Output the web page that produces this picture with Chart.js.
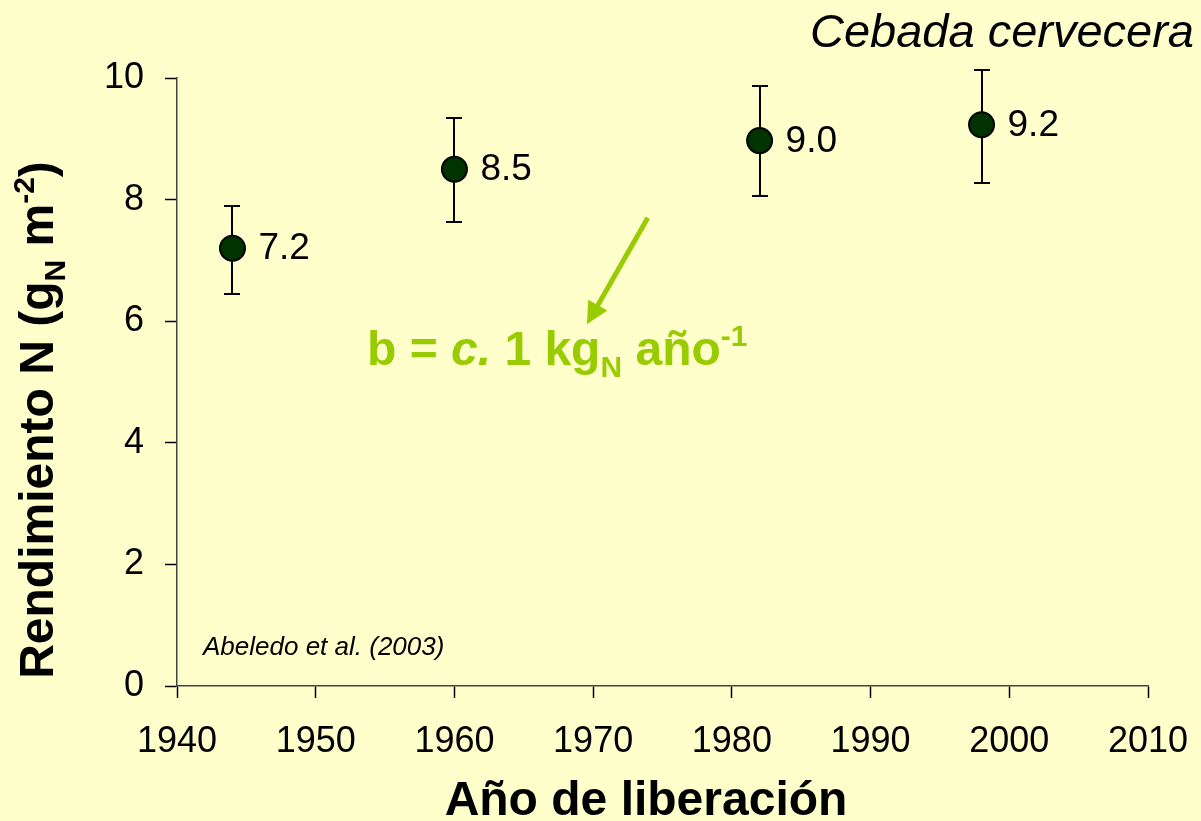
<!DOCTYPE html>
<html lang="es">
<head>
  <meta charset="UTF-8">
  <title>Rendimiento N - Cebada cervecera</title>
  <script src="https://cdn.jsdelivr.net/npm/chart.js@4/dist/chart.umd.min.js"></script>
  <style>
    html, body { margin: 0; padding: 0; background: #FFFFCC; }
    #chart { display: block; background: #FFFFCC; }
  </style>
</head>
<body>
  <canvas id="chart" width="1201" height="821"></canvas>

  <script>
    // Data
    var years = [1944, 1960, 1982, 1998];
    var rendimiento = [7.2, 8.5, 8.97, 9.23];
    var errorLow = [6.45, 7.63, 8.06, 8.28];
    var errorHigh = [7.89, 9.34, 9.87, 10.13];
    var pointLabels = ["7.2", "8.5", "9.0", "9.2"];
    var xTicks = [1940, 1950, 1960, 1970, 1980, 1990, 2000, 2010];
    var yTicks = [0, 2, 4, 6, 8, 10];

    // Arrow of the slope note, in data units (year, g m-2)
    var arrowFrom = [1973.94, 7.70];
    var arrowTo = [1969.55, 5.95];

    var FONT = "'Liberation Sans', Arial, sans-serif";
    var GREEN = "#99CC00";

    /* Draw text made of parts (sub / superscripts) */
    function drawRich(ctx, parts, x, y, align) {
      var total = 0;
      parts.forEach(function(p) {
        ctx.font = p.font;
        total += ctx.measureText(p.t).width;
      });
      var cx = x;
      if (align == "center") cx = x - total / 2;
      if (align == "right") cx = x - total;
      ctx.textAlign = "left";
      ctx.textBaseline = "alphabetic";
      parts.forEach(function(p) {
        ctx.font = p.font;
        ctx.fillText(p.t, cx, y + (p.dy || 0));
        cx += ctx.measureText(p.t).width;
      });
    }

    var points = years.map(function(y, i) { return { x: y, y: rendimiento[i] }; });

    var extras = {
      id: "extras",
      afterDatasetsDraw: function(chart) {
        var ctx = chart.ctx;
        var xs = chart.scales.x, ys = chart.scales.y;
        ctx.save();

        // value labels
        ctx.fillStyle = "#000";
        ctx.font = "37px " + FONT;
        ctx.textAlign = "left";
        ctx.textBaseline = "middle";
        for (var i = 0; i < years.length; i++) {
          ctx.fillText(pointLabels[i], xs.getPixelForValue(years[i]) + 26, ys.getPixelForValue(rendimiento[i]) + 1);
        }

        // arrow
        var x0 = xs.getPixelForValue(arrowFrom[0]), y0 = ys.getPixelForValue(arrowFrom[1]);
        var x1 = xs.getPixelForValue(arrowTo[0]), y1 = ys.getPixelForValue(arrowTo[1]);
        var ang = Math.atan2(y1 - y0, x1 - x0);
        var headLen = 22, headW = 11;
        var bx = x1 - headLen * Math.cos(ang), by = y1 - headLen * Math.sin(ang);
        ctx.strokeStyle = GREEN;
        ctx.fillStyle = GREEN;
        ctx.lineWidth = 5;
        ctx.beginPath();
        ctx.moveTo(x0, y0);
        ctx.lineTo(bx, by);
        ctx.stroke();
        ctx.beginPath();
        ctx.moveTo(x1, y1);
        ctx.lineTo(bx + headW * Math.sin(ang), by - headW * Math.cos(ang));
        ctx.lineTo(bx - headW * Math.sin(ang), by + headW * Math.cos(ang));
        ctx.closePath();
        ctx.fill();

        // slope note
        ctx.fillStyle = GREEN;
        var b48 = "bold 48px " + FONT, b30 = "bold 30px " + FONT;
        drawRich(ctx, [
          { t: "b = ", font: b48 },
          { t: "c.", font: "italic bold 48px " + FONT },
          { t: " 1 kg", font: b48 },
          { t: "N", font: b30, dy: 12 },
          { t: " año", font: b48 },
          { t: "-1", font: b30, dy: -19 }
        ], 367, 365, "left");

        // species
        ctx.fillStyle = "#000";
        drawRich(ctx, [{ t: "Cebada cervecera", font: "italic 47px " + FONT }], 1194, 47, "right");

        // source
        drawRich(ctx, [{ t: "Abeledo et al. (2003)", font: "italic 26px " + FONT }], 203, 655, "left");

        // x title
        drawRich(ctx, [{ t: "Año de liberación", font: b48 }], 646, 815, "center");

        // y title (rotated)
        ctx.translate(53, 420);
        ctx.rotate(-Math.PI / 2);
        drawRich(ctx, [
          { t: "Rendimiento N (g", font: b48 },
          { t: "N", font: b30, dy: 12 },
          { t: " m", font: b48 },
          { t: "-2", font: b30, dy: -19 },
          { t: ")", font: b48 }
        ], 0, 0, "center");

        ctx.restore();
      },
      beforeDatasetsDraw: function(chart) {
        // error bars
        var ctx = chart.ctx;
        var xs = chart.scales.x, ys = chart.scales.y;
        ctx.save();
        ctx.strokeStyle = "#000";
        ctx.lineWidth = 2;
        for (var i = 0; i < years.length; i++) {
          var px = Math.round(xs.getPixelForValue(years[i]));
          var lo = Math.round(ys.getPixelForValue(errorLow[i]));
          var hi = Math.round(ys.getPixelForValue(errorHigh[i]));
          ctx.beginPath();
          ctx.moveTo(px, lo); ctx.lineTo(px, hi);
          ctx.moveTo(px - 8, lo); ctx.lineTo(px + 8, lo);
          ctx.moveTo(px - 8, hi); ctx.lineTo(px + 8, hi);
          ctx.stroke();
        }
        ctx.restore();
      }
    };

    new Chart(document.getElementById("chart"), {
      type: "scatter",
      data: {
        datasets: [{
          data: points,
          backgroundColor: "#003300",
          borderColor: "#000",
          borderWidth: 2,
          pointRadius: 12.5,
          pointHoverRadius: 12.5
        }]
      },
      options: {
        responsive: false,
        animation: false,
        events: [],
        layout: { padding: { left: 0, top: 78, right: 53, bottom: 0 } },
        plugins: { legend: { display: false }, tooltip: { enabled: false } },
        scales: {
          x: {
            type: "linear",
            min: 1940,
            max: 2010,
            afterBuildTicks: function(scale) {
              scale.ticks = xTicks.map(function(v) { return { value: v }; });
            },
            afterFit: function(scale) {
              scale.height = 135;
              scale.paddingLeft = 0;
              scale.paddingRight = 0;
            },
            grid: { drawOnChartArea: false, drawTicks: true, tickLength: 12, tickColor: "#000", tickWidth: 1.5 },
            border: { display: true, color: "#444", width: 1.5 },
            ticks: {
              color: "#000", font: { family: FONT, size: 36 }, padding: 22, maxRotation: 0, autoSkip: false,
              callback: function(v) { return String(v); }
            }
          },
          y: {
            min: 0,
            max: 10,
            afterBuildTicks: function(scale) {
              scale.ticks = yTicks.map(function(v) { return { value: v }; });
            },
            afterFit: function(scale) {
              scale.width = 177;
              scale.paddingTop = 0;
              scale.paddingBottom = 0;
            },
            grid: { drawOnChartArea: false, drawTicks: true, tickLength: 12, tickColor: "#000", tickWidth: 1.5 },
            border: { display: true, color: "#444", width: 1.5 },
            ticks: { color: "#000", font: { family: FONT, size: 36 }, padding: 21, autoSkip: false }
          }
        }
      },
      plugins: [extras]
    });
  </script>
</body>
</html>
